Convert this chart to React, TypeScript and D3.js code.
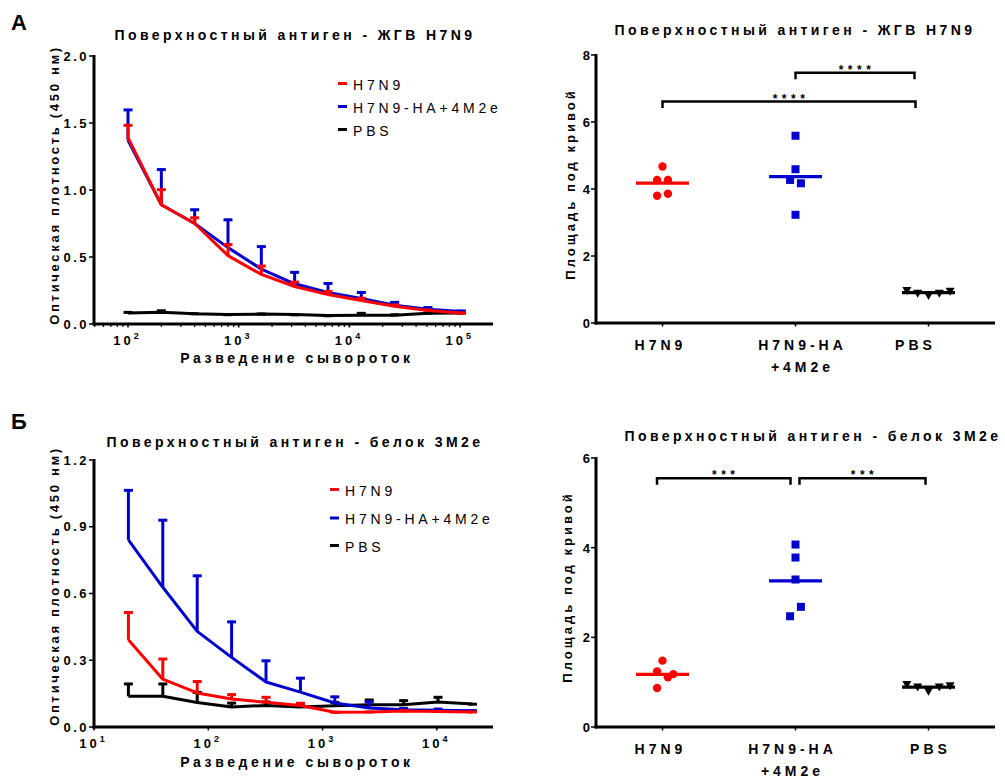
import React from 'react';
import * as d3 from 'd3';

// ---------- DATA ----------
const dilutionsA = [100, 200, 400, 800, 1600, 3200, 6400, 12800, 25600, 51200, 102400];
const h7n9MeanA = [1.39, 0.89, 0.75, 0.51, 0.37, 0.28, 0.22, 0.175, 0.132, 0.1, 0.082];
const h7n9SdA = [0.1, 0.12, 0.05, 0.09, 0.07, 0.04, 0.03, 0.025, 0.017, 0.012, 0.008];
const haMeanA = [1.37, 0.89, 0.75, 0.57, 0.41, 0.3, 0.236, 0.19, 0.14, 0.11, 0.094];
const haSdA = [0.235, 0.27, 0.11, 0.215, 0.175, 0.093, 0.074, 0.053, 0.029, 0.02, 0.011];
const pbsMeanA = [0.082, 0.088, 0.076, 0.071, 0.074, 0.071, 0.063, 0.065, 0.066, 0.08, 0.083];
const pbsSdA = [0.012, 0.018, 0.008, 0.006, 0.008, 0.005, 0.006, 0.022, 0.01, 0.008, 0.006];

const dilutionsB = [20, 40, 80, 160, 320, 640, 1280, 2560, 5120, 10240, 20480];
const h7n9MeanB = [0.392, 0.215, 0.153, 0.126, 0.111, 0.097, 0.066, 0.067, 0.072, 0.07, 0.067];
const h7n9SdB = [0.127, 0.095, 0.056, 0.024, 0.027, 0.014, 0.005, 0.005, 0.005, 0.005, 0.005];
const haMeanB = [0.841, 0.628, 0.43, 0.313, 0.202, 0.157, 0.108, 0.085, 0.078, 0.075, 0.073];
const haSdB = [0.227, 0.306, 0.254, 0.164, 0.1, 0.067, 0.032, 0.033, 0.01, 0.01, 0.005];
const pbsMeanB = [0.138, 0.138, 0.11, 0.09, 0.097, 0.09, 0.095, 0.1, 0.1, 0.112, 0.103];
const pbsSdB = [0.06, 0.06, 0.05, 0.022, 0.02, 0.015, 0.02, 0.026, 0.023, 0.026, 0.004];

const groups = ['H7N9', 'H7N9-HA+4M2e', 'PBS'];
const aucA_H7N9 = [4.67, 4.27, 4.27, 3.8, 3.86];
const aucA_HA = [5.59, 4.59, 4.27, 4.17, 3.23];
const aucA_PBS = [0.97, 0.89, 0.82, 0.89, 0.95];
const aucB_H7N9 = [1.48, 1.24, 1.11, 1.18, 0.87];
const aucB_HA = [4.07, 3.78, 3.29, 2.68, 2.47];
const aucB_PBS = [0.95, 0.89, 0.8, 0.89, 0.92];

const yTicksA = [0, 0.5, 1.0, 1.5, 2.0];
const yTicksB = [0, 0.3, 0.6, 0.9, 1.2];
const xTicksA = [100, 1000, 10000, 100000];
const xTicksB = [10, 100, 1000, 10000];
const aucTicksA = [0, 2, 4, 6, 8];
const aucTicksB = [0, 2, 4, 6];

const titleA = 'Поверхностный антиген - ЖГВ H7N9';
const titleB = 'Поверхностный антиген - белок 3M2e';
const yLabelLeft = 'Оптическая плотность (450 нм)';
const yLabelRight = 'Площадь под кривой';
const xLabelLeft = 'Разведение сывороток';

// ---------- LAYOUT / STYLE ----------
const RED = '#ff0000';
const BLUE = '#0000cc';
const BLACK = '#000000';
const FONT = "'Liberation Sans', Arial, Helvetica, sans-serif";

// horizontal jitter slots (layout) for scatter points, in units of marker step
const jitA = [[0, -1, 1, -1, 1], [0, 0, -1, 1, 0], [-2, -1, 0, 1, 2]];
const jitB = [[0, -1, 1, 2, -1], [0, 0, 0, 1, -1], [-2, -1, 0, 1, 2]];

type Series = { mean: number[]; sd: number[]; color: string };

function LeftPanel(props: {
  top: number; bottom: number; xDomain: [number, number]; dil: number[];
  series: Series[]; yTicks: number[]; xTicks: number[]; minor: boolean;
  title: string; titleY: number; xLabelY: number; yLabelCY: number;
  legendY: number[]; legendX: number; letter: string; letterY: number;
}) {
  const { top, bottom } = props;
  const x = d3.scaleLog().domain(props.xDomain).range([94, 493]);
  const y = d3.scaleLinear().domain([0, props.yTicks[props.yTicks.length - 1]]).range([bottom, top]);
  const line = d3.line<number>().x((_, i) => x(props.dil[i])).y(d => y(d));
  const minorTicks: number[] = [];
  if (props.minor) {
    for (let e = 1; e <= 5; e++) for (let m = 2; m <= 9; m++) {
      const v = m * Math.pow(10, e);
      if (v > props.xDomain[0] && v < props.xDomain[1]) minorTicks.push(v);
    }
  }
  const legendColors = [RED, BLUE, BLACK];
  return (
    <g>
      <text x={11} y={props.letterY} fontSize={22} fontWeight="bold" fontFamily={FONT}>{props.letter}</text>
      <text x={295} y={props.titleY} textAnchor="middle" fontSize={14} fontWeight="bold" letterSpacing={3.4} fontFamily={FONT}>{props.title}</text>
      {props.series.map((s, si) => (
        <g key={si}>
          {s.mean.map((m, i) => {
            const cx = x(props.dil[i]);
            const y0 = y(m), y1 = y(m + s.sd[i]);
            return (
              <g key={i}>
                <line x1={cx} x2={cx} y1={y0} y2={y1} stroke={s.color} strokeWidth={3} />
                <line x1={cx - 4.5} x2={cx + 4.5} y1={y1 + 1} y2={y1 + 1} stroke={s.color} strokeWidth={3} />
              </g>
            );
          })}
          <path d={line(s.mean) || ''} fill="none" stroke={s.color} strokeWidth={3} strokeLinejoin="round" />
        </g>
      ))}
      <line x1={94} x2={94} y1={top - 1} y2={bottom + 1.5} stroke={BLACK} strokeWidth={3} />
      <line x1={92.5} x2={493} y1={bottom} y2={bottom} stroke={BLACK} strokeWidth={3} />
      {props.yTicks.map(t => (
        <g key={t}>
          <line x1={89} x2={94} y1={y(t)} y2={y(t)} stroke={BLACK} strokeWidth={1.5} />
          <text x={89} y={y(t) + 4.5} textAnchor="end" fontSize={13} fontWeight="bold" letterSpacing={2.5} fontFamily={FONT}>{d3.format('.1f')(t)}</text>
        </g>
      ))}
      {minorTicks.map(t => (
        <line key={t} x1={x(t)} x2={x(t)} y1={bottom} y2={bottom + 3} stroke={BLACK} strokeWidth={1.2} />
      ))}
      {props.xTicks.map(t => (
        <g key={t}>
          <line x1={x(t)} x2={x(t)} y1={bottom} y2={bottom + 3.5} stroke={BLACK} strokeWidth={1.5} />
          <text x={x(t) - 2} y={bottom + 21} textAnchor="middle" fontSize={13} fontWeight="bold" fontFamily={FONT}>
            <tspan letterSpacing={3}>10</tspan>
            <tspan fontSize={9} dy={-6}>{Math.round(Math.log10(t))}</tspan>
          </text>
        </g>
      ))}
      <text x={297} y={props.xLabelY} textAnchor="middle" fontSize={14} fontWeight="bold" letterSpacing={3.6} fontFamily={FONT}>{xLabelLeft}</text>
      <text transform={`translate(59,${props.yLabelCY}) rotate(-90)`} textAnchor="middle" fontSize={13} fontWeight="bold" letterSpacing={2.7} fontFamily={FONT}>{yLabelLeft}</text>
      {groups.map((n, i) => (
        <g key={n}>
          <line x1={props.legendX} x2={props.legendX + 9} y1={props.legendY[i]} y2={props.legendY[i]} stroke={legendColors[i]} strokeWidth={3} />
          <text x={props.legendX + 15} y={props.legendY[i] + 6} fontSize={14} letterSpacing={3.8} fontFamily={FONT}>{n}</text>
        </g>
      ))}
    </g>
  );
}

function RightPanel(props: {
  top: number; bottom: number; ticks: number[]; data: number[][]; jit: number[][];
  title: string; titleX: number; titleY: number; yLabelCY: number; yLabelX: number;
  labelOffsets: number[]; labelY: number;
  brackets: { a: number; b: number; da: number; db: number; y: number; stars: string }[];
}) {
  const { top, bottom } = props;
  const x = d3.scalePoint<string>().domain(groups).range([596, 995]).padding(0.5);
  const y = d3.scaleLinear().domain([0, props.ticks[props.ticks.length - 1]]).range([bottom, top]);
  const colors = [RED, BLUE, BLACK];
  const step = 10.8;
  return (
    <g>
      <text x={props.titleX} y={props.titleY} textAnchor="middle" fontSize={14} fontWeight="bold" letterSpacing={3.4} fontFamily={FONT}>{props.title}</text>
      <text transform={`translate(${props.yLabelX},${props.yLabelCY}) rotate(-90)`} textAnchor="middle" fontSize={13} fontWeight="bold" letterSpacing={3} fontFamily={FONT}>{yLabelRight}</text>
      <line x1={596} x2={596} y1={top - 1} y2={bottom + 1.5} stroke={BLACK} strokeWidth={3} />
      <line x1={594.5} x2={995} y1={bottom} y2={bottom} stroke={BLACK} strokeWidth={3} />
      {props.ticks.map(t => (
        <g key={t}>
          <line x1={591} x2={596} y1={y(t)} y2={y(t)} stroke={BLACK} strokeWidth={1.5} />
          <text x={590} y={y(t) + 5} textAnchor="end" fontSize={13} fontWeight="bold" fontFamily={FONT}>{t}</text>
        </g>
      ))}
      {groups.map((g, gi) => {
        const cx = x(g)!;
        const lines = gi === 1 ? ['H7N9-HA', '+4M2e'] : [g];
        return (
          <g key={g}>
            <line x1={cx} x2={cx} y1={bottom} y2={bottom + 3.5} stroke={BLACK} strokeWidth={1.5} />
            {lines.map((l, li) => (
              <text key={l} x={cx + props.labelOffsets[gi] + 2} y={props.labelY + li * 22} textAnchor="middle" fontSize={14} fontWeight="bold" letterSpacing={4} fontFamily={FONT}>{l}</text>
            ))}
          </g>
        );
      })}
      {props.data.map((vals, gi) => {
        const cx = x(groups[gi])!;
        const m = d3.mean(vals)!;
        return (
          <g key={gi}>
            {vals.map((v, i) => {
              const px = cx + props.jit[gi][i] * (gi === 2 ? step : step / 2);
              const py = y(v);
              if (gi === 0) return <circle key={i} cx={px} cy={py} r={4.2} fill={RED} />;
              if (gi === 1) return <rect key={i} x={px - 4} y={py - 4} width={8} height={8} fill={BLUE} />;
              return <path key={i} d={`M${px - 4.5},${py - 3.5}L${px + 4.5},${py - 3.5}L${px},${py + 4.5}Z`} fill={BLACK} />;
            })}
            <line x1={cx - 26.5} x2={cx + 26.5} y1={y(m)} y2={y(m)} stroke={colors[gi]} strokeWidth={3.2} />
          </g>
        );
      })}
      {props.brackets.map((b, i) => {
        const xa = x(groups[b.a])! + b.da;
        const xb = x(groups[b.b])! + b.db;
        const yy = y(b.y);
        return (
          <g key={i}>
            <path d={`M${xa},${yy + 6.5}V${yy}H${xb}V${yy + 6.5}`} fill="none" stroke={BLACK} strokeWidth={2.5} />
            <text x={(xa + xb) / 2 + 2} y={yy + 1} textAnchor="middle" fontSize={12} fontWeight="bold" letterSpacing={4.5} fontFamily={FONT}>{b.stars}</text>
          </g>
        );
      })}
    </g>
  );
}

export default function App() {
  return (
    <svg width={1005} height={778} style={{ position: 'absolute', left: 0, top: 0, background: '#fff' }}>
      <rect width={1005} height={778} fill="#fff" />
      <LeftPanel top={56} bottom={324} xDomain={[49.3, 198000]} dil={dilutionsA}
        series={[
          { mean: pbsMeanA, sd: pbsSdA, color: BLACK },
          { mean: haMeanA, sd: haSdA, color: BLUE },
          { mean: h7n9MeanA, sd: h7n9SdA, color: RED },
        ]}
        yTicks={yTicksA} xTicks={xTicksA} minor={true} title={titleA} titleY={40}
        xLabelY={363} yLabelCY={185} legendY={[83.5, 106.5, 129.5]} legendX={338} letter="А" letterY={30} />
      <LeftPanel top={460} bottom={727} xDomain={[10, 31000]} dil={dilutionsB}
        series={[
          { mean: pbsMeanB, sd: pbsSdB, color: BLACK },
          { mean: haMeanB, sd: haSdB, color: BLUE },
          { mean: h7n9MeanB, sd: h7n9SdB, color: RED },
        ]}
        yTicks={yTicksB} xTicks={xTicksB} minor={false} title={titleB} titleY={447}
        xLabelY={767} yLabelCY={586} legendY={[489.5, 518, 545.5]} legendX={330} letter="Б" letterY={429} />
      <RightPanel top={55} bottom={323} ticks={aucTicksA} data={[aucA_H7N9, aucA_HA, aucA_PBS]} jit={jitA}
        title={titleA} titleX={795} titleY={35} yLabelCY={184} yLabelX={575}
        labelOffsets={[-4, 5, -15]} labelY={350}
        brackets={[
          { a: 1, b: 2, da: 0, db: -14, y: 7.47, stars: '****' },
          { a: 0, b: 2, da: 0, db: -13, y: 6.61, stars: '****' },
        ]} />
      <RightPanel top={458} bottom={727} ticks={aucTicksB} data={[aucB_H7N9, aucB_HA, aucB_PBS]} jit={jitB}
        title={titleB} titleX={813} titleY={441} yLabelCY={587} yLabelX={572}
        labelOffsets={[-4, -5, 0]} labelY={754}
        brackets={[
          { a: 0, b: 1, da: -5.5, db: -5, y: 5.55, stars: '***' },
          { a: 1, b: 2, da: 4, db: -3, y: 5.55, stars: '***' },
        ]} />
    </svg>
  );
}
